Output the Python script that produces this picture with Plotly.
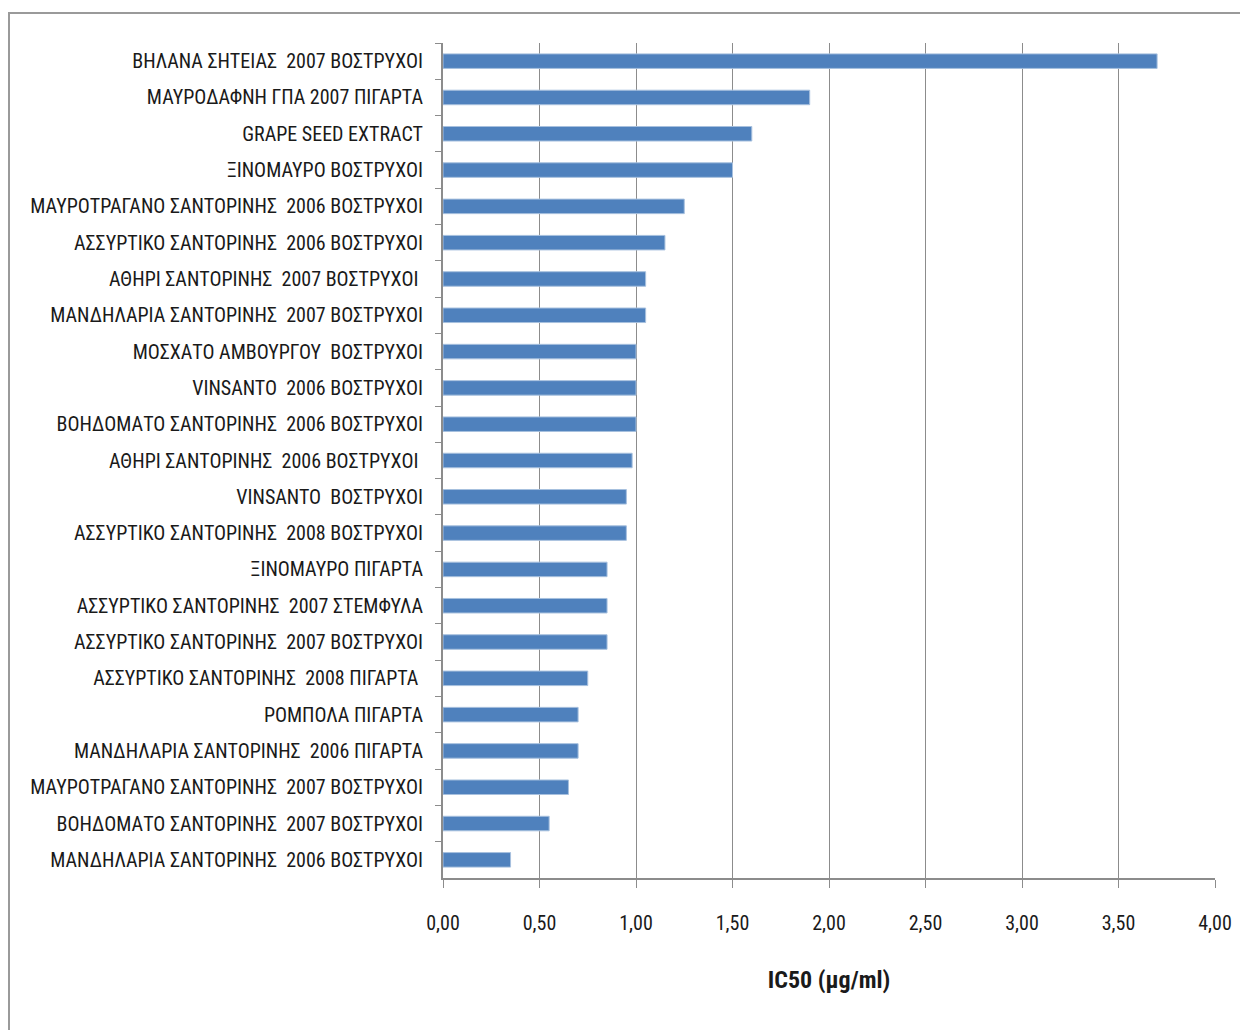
import plotly.graph_objects as go

categories = [
    "ΒΗΛΑΝΑ ΣΗΤΕΙΑΣ\u00a0 2007 ΒΟΣΤΡΥΧΟΙ",
    "ΜΑΥΡΟΔΑΦΝΗ ΓΠΑ 2007 ΠΙΓΑΡΤΑ",
    "GRAPE SEED EXTRACT",
    "ΞΙΝΟΜΑΥΡΟ ΒΟΣΤΡΥΧΟΙ",
    "ΜΑΥΡΟΤΡΑΓΑΝΟ ΣΑΝΤΟΡΙΝΗΣ\u00a0 2006 ΒΟΣΤΡΥΧΟΙ",
    "ΑΣΣΥΡΤΙΚΟ ΣΑΝΤΟΡΙΝΗΣ\u00a0 2006 ΒΟΣΤΡΥΧΟΙ",
    "ΑΘΗΡΙ ΣΑΝΤΟΡΙΝΗΣ\u00a0 2007 ΒΟΣΤΡΥΧΟΙ\u00a0",
    "ΜΑΝΔΗΛΑΡΙΑ ΣΑΝΤΟΡΙΝΗΣ\u00a0 2007 ΒΟΣΤΡΥΧΟΙ",
    "ΜΟΣΧΑΤΟ ΑΜΒΟΥΡΓΟΥ\u00a0 ΒΟΣΤΡΥΧΟΙ",
    "VINSANTO\u00a0 2006 ΒΟΣΤΡΥΧΟΙ",
    "ΒΟΗΔΟΜΑΤΟ ΣΑΝΤΟΡΙΝΗΣ\u00a0 2006 ΒΟΣΤΡΥΧΟΙ",
    "ΑΘΗΡΙ ΣΑΝΤΟΡΙΝΗΣ\u00a0 2006 ΒΟΣΤΡΥΧΟΙ\u00a0",
    "VINSANTO\u00a0 ΒΟΣΤΡΥΧΟΙ",
    "ΑΣΣΥΡΤΙΚΟ ΣΑΝΤΟΡΙΝΗΣ\u00a0 2008 ΒΟΣΤΡΥΧΟΙ",
    "ΞΙΝΟΜΑΥΡΟ ΠΙΓΑΡΤΑ",
    "ΑΣΣΥΡΤΙΚΟ ΣΑΝΤΟΡΙΝΗΣ\u00a0 2007 ΣΤΕΜΦΥΛΑ",
    "ΑΣΣΥΡΤΙΚΟ ΣΑΝΤΟΡΙΝΗΣ\u00a0 2007 ΒΟΣΤΡΥΧΟΙ",
    "ΑΣΣΥΡΤΙΚΟ ΣΑΝΤΟΡΙΝΗΣ\u00a0 2008 ΠΙΓΑΡΤΑ\u00a0",
    "ΡΟΜΠΟΛΑ ΠΙΓΑΡΤΑ",
    "ΜΑΝΔΗΛΑΡΙΑ ΣΑΝΤΟΡΙΝΗΣ\u00a0 2006 ΠΙΓΑΡΤΑ",
    "ΜΑΥΡΟΤΡΑΓΑΝΟ ΣΑΝΤΟΡΙΝΗΣ\u00a0 2007 ΒΟΣΤΡΥΧΟΙ",
    "ΒΟΗΔΟΜΑΤΟ ΣΑΝΤΟΡΙΝΗΣ\u00a0 2007 ΒΟΣΤΡΥΧΟΙ",
    "ΜΑΝΔΗΛΑΡΙΑ ΣΑΝΤΟΡΙΝΗΣ\u00a0 2006 ΒΟΣΤΡΥΧΟΙ",
]
ic50 = [3.70, 1.90, 1.60, 1.50, 1.25, 1.15, 1.05, 1.05, 1.00, 1.00, 1.00, 0.98,
        0.95, 0.95, 0.85, 0.85, 0.85, 0.75, 0.70, 0.70, 0.65, 0.55, 0.35]
tick_vals = [0, 0.5, 1.0, 1.5, 2.0, 2.5, 3.0, 3.5, 4.0]
tick_text = ["0,00", "0,50", "1,00", "1,50", "2,00", "2,50", "3,00", "3,50", "4,00"]
x_title = "IC50 (µg/ml)"

FONT = "Roboto Condensed, Liberation Sans Narrow, Arial Narrow, sans-serif"

fig = go.Figure(go.Bar(
    y=categories, x=ic50, orientation="h",
    marker=dict(color="#4F81BD", line=dict(color="#A7C0DE", width=1)),
))

# page offset of the figure inside the html body (default body margin)
OFF = 8
W, H = 1248 - OFF, 1030 - OFF
ml, mr, mt, mb = 443 - OFF, 33, 43 - OFF, 152
pw, ph = W - ml - mr, H - mt - mb

def px_x(v):
    return (v - OFF - ml) / pw

def px_y(v):
    return (H - mb - (v - OFF)) / ph

fig.update_layout(
    width=W, height=H,
    margin=dict(l=ml, r=mr, t=mt, b=mb, autoexpand=False),
    paper_bgcolor="white", plot_bgcolor="white",
    bargap=0.6, showlegend=False,
    font=dict(family=FONT, size=20, color="#1a1a1a"),
    shapes=[dict(type="rect", xref="paper", yref="paper",
                 x0=px_x(9), x1=px_x(1262), y0=px_y(1045), y1=px_y(13),
                 line=dict(color="#9a9a9a", width=2), layer="below")],
)
fig.update_xaxes(
    range=[0, 4], tickvals=tick_vals, ticktext=tick_text,
    showgrid=True, gridcolor="#8c8c8c", gridwidth=1,
    showline=True, linecolor="#8c8c8c", linewidth=2,
    ticks="outside", ticklen=8, tickcolor="#8c8c8c",
    ticklabelstandoff=18, zeroline=False,
    tickfont=dict(family=FONT, size=20, color="#1a1a1a"),
    title=dict(text="<b>" + x_title + "</b>", standoff=37,
               font=dict(family=FONT, size=24, color="#1a1a1a")),
)
fig.update_yaxes(
    autorange="reversed", type="category",
    showline=True, linecolor="#8c8c8c", linewidth=2,
    ticks="outside", ticklen=6, tickcolor="#8c8c8c", tickson="boundaries",
    ticklabelstandoff=14, showgrid=False,
    tickfont=dict(family=FONT, size=20, color="#1a1a1a"),
)

fig.write_html("out.html")
